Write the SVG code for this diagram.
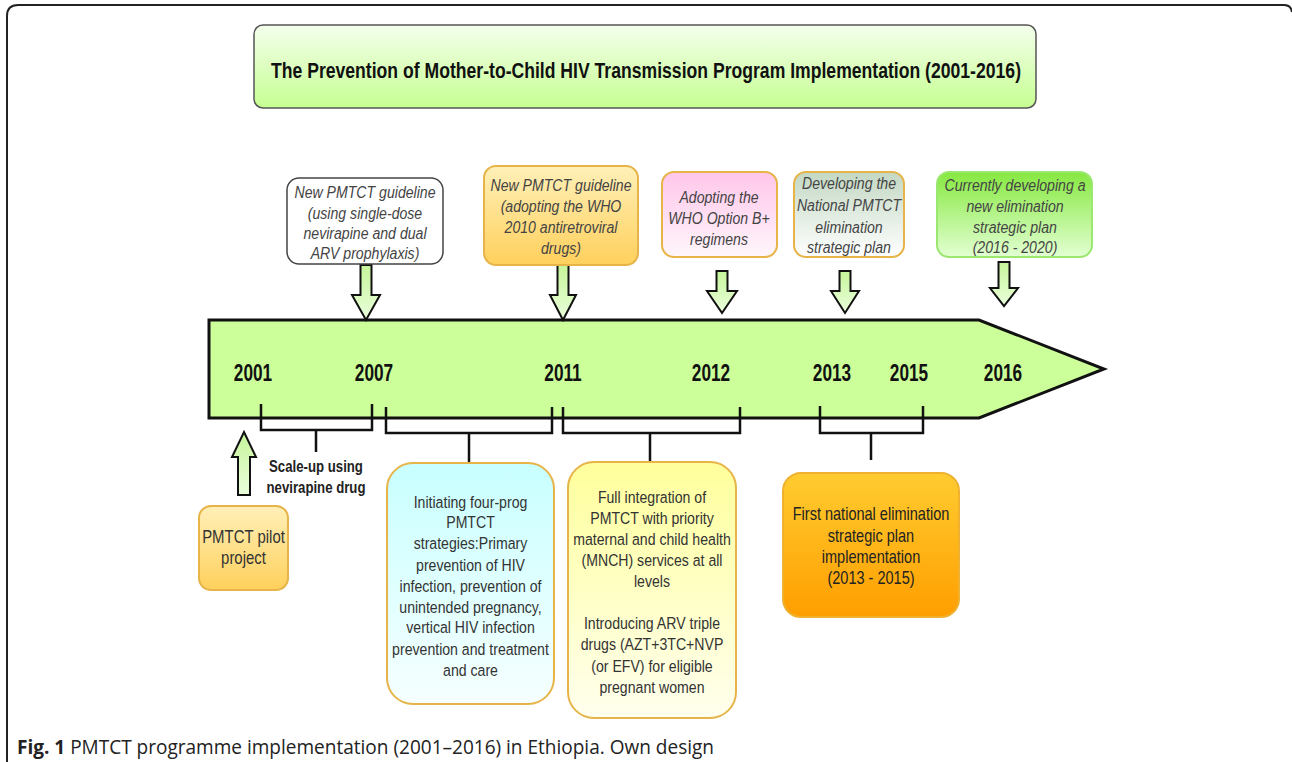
<svg xmlns="http://www.w3.org/2000/svg" width="1292" height="762" viewBox="0 0 1292 762">
<defs>
<linearGradient id="gTitle" x1="0" y1="0" x2="0" y2="1"><stop offset="0" stop-color="#f4ffec"/><stop offset="1" stop-color="#c6ff92"/></linearGradient>
<linearGradient id="gArrow" x1="0" y1="0" x2="0" y2="1"><stop offset="0" stop-color="#c6f59a"/><stop offset="1" stop-color="#eaffdc"/></linearGradient>
<linearGradient id="gOrangeLight" x1="0" y1="0" x2="0" y2="1"><stop offset="0" stop-color="#fff0b8"/><stop offset="1" stop-color="#ffd05c"/></linearGradient>
<linearGradient id="gPink" x1="0" y1="0" x2="0" y2="1"><stop offset="0" stop-color="#ffc6ea"/><stop offset="1" stop-color="#fff6fb"/></linearGradient>
<linearGradient id="gGrey" x1="0" y1="0" x2="0" y2="1"><stop offset="0" stop-color="#c3d8c3"/><stop offset="1" stop-color="#ffffff"/></linearGradient>
<linearGradient id="gGreen" x1="0" y1="0" x2="0" y2="1"><stop offset="0" stop-color="#86e840"/><stop offset="1" stop-color="#e2ffd2"/></linearGradient>
<linearGradient id="gCyan" x1="0" y1="0" x2="0" y2="1"><stop offset="0" stop-color="#c8ffff"/><stop offset="1" stop-color="#f6ffff"/></linearGradient>
<linearGradient id="gYellow" x1="0" y1="0" x2="0" y2="1"><stop offset="0" stop-color="#ffff9c"/><stop offset="1" stop-color="#ffffee"/></linearGradient>
<linearGradient id="gOrange" x1="0" y1="0" x2="0" y2="1"><stop offset="0" stop-color="#ffcc30"/><stop offset="1" stop-color="#ff9e00"/></linearGradient>
</defs>
<style>
.frame{fill:none;stroke:#222;stroke-width:2}
.blk{fill:url(#gArrow);stroke:#111;stroke-width:2;stroke-linejoin:miter}
.brk{fill:none;stroke:#111;stroke-width:2.5}
.box{stroke:#e6b448;stroke-width:2}
.it{font-family:"Liberation Sans",Arial,sans-serif;font-style:italic;font-size:17px;fill:#444;text-anchor:middle}
.rg{font-family:"Liberation Sans",Arial,sans-serif;font-size:17px;fill:#333;text-anchor:middle}
.yr{font-family:"Liberation Sans",Arial,sans-serif;font-weight:bold;font-size:23px;fill:#111;text-anchor:middle}
.bd{font-family:"Liberation Sans",Arial,sans-serif;font-weight:bold;font-size:16.5px;fill:#222;text-anchor:middle}
</style>
<rect width="1292" height="762" fill="#fff"/>
<path class="frame" d="M7,762 L7,16 Q7,5 18,5 L1284,5 Q1291,5 1292,12"/>

<g id="title">
<rect x="254" y="25" width="782" height="83" rx="9" fill="url(#gTitle)" stroke="#555" stroke-width="1.5"/>
<text x="646" y="78" font-family="'Liberation Sans',Arial,sans-serif" font-weight="bold" font-size="21.5" fill="#111" text-anchor="middle" textLength="750" lengthAdjust="spacingAndGlyphs">The Prevention of Mother-to-Child HIV Transmission Program Implementation (2001-2016)</text>
</g>

<g id="timeline">
<polygon points="209,320 979,320 1104,369 979,418 209,418" fill="#ccff99" stroke="#111" stroke-width="3" stroke-linejoin="miter"/>
<g transform="translate(253,0) scale(0.75,1)"><text class="yr" x="0" y="381">2001</text></g>
<g transform="translate(374,0) scale(0.75,1)"><text class="yr" x="0" y="381">2007</text></g>
<g transform="translate(563,0) scale(0.75,1)"><text class="yr" x="0" y="381">2011</text></g>
<g transform="translate(711,0) scale(0.75,1)"><text class="yr" x="0" y="381">2012</text></g>
<g transform="translate(832,0) scale(0.75,1)"><text class="yr" x="0" y="381">2013</text></g>
<g transform="translate(909,0) scale(0.75,1)"><text class="yr" x="0" y="381">2015</text></g>
<g transform="translate(1003,0) scale(0.75,1)"><text class="yr" x="0" y="381">2016</text></g>
</g>

<g id="connectors">
<polygon class="blk" points="360.5,265 371.5,265 371.5,295 380,295 366,320 352,295 360.5,295"/>
<polygon class="blk" points="557.5,265 568.5,265 568.5,295 576,295 563,320 550,295 557.5,295"/>
<polygon class="blk" points="716.5,271 727.5,271 727.5,291 737,291 722,313 707,291 716.5,291"/>
<polygon class="blk" points="839.5,271 850.5,271 850.5,291 859,291 845,313 831,291 839.5,291"/>
<polygon class="blk" points="998.5,262 1009.5,262 1009.5,288 1018,288 1004,306 990,288 998.5,288"/>
<polygon class="blk" points="244,432 256,457 250,457 250,495 238,495 238,457 232,457"/>
<path class="brk" d="M261,404 V430 H372 V404 M316,430 V452"/>
<path class="brk" d="M386,407 V433 H552 V407 M469,433 V463"/>
<path class="brk" d="M563,407 V433 H740 V407 M650,433 V462"/>
<path class="brk" d="M820,406 V433 H923 V406 M871,433 V460"/>
</g>

<g id="n2007">
<rect x="287" y="178" width="156" height="86" rx="12" fill="#fff" stroke="#444" stroke-width="1.5"/>
<g transform="translate(365,0) scale(0.83,1)"><text class="it"><tspan x="0" y="198">New PMTCT guideline</tspan><tspan x="0" y="219">(using single-dose</tspan><tspan x="0" y="239">nevirapine and dual</tspan><tspan x="0" y="259">ARV prophylaxis)</tspan></text></g>
</g>

<g id="n2011">
<rect x="484" y="166" width="154" height="99" rx="12" fill="url(#gOrangeLight)" class="box"/>
<g transform="translate(561,0) scale(0.83,1)"><text class="it"><tspan x="0" y="191">New PMTCT guideline</tspan><tspan x="0" y="212">(adopting the WHO</tspan><tspan x="0" y="233">2010 antiretroviral</tspan><tspan x="0" y="254">drugs)</tspan></text></g>
</g>

<g id="n2012">
<rect x="662" y="172" width="115" height="85" rx="12" fill="url(#gPink)" class="box"/>
<g transform="translate(719,0) scale(0.83,1)"><text class="it"><tspan x="0" y="203">Adopting the</tspan><tspan x="0" y="224">WHO Option B+</tspan><tspan x="0" y="245">regimens</tspan></text></g>
</g>

<g id="n2013">
<rect x="794" y="172" width="110" height="85" rx="12" fill="url(#gGrey)" class="box"/>
<g transform="translate(849,0) scale(0.83,1)"><text class="it"><tspan x="0" y="189">Developing the</tspan><tspan x="0" y="211">National PMTCT</tspan><tspan x="0" y="233">elimination</tspan><tspan x="0" y="253">strategic plan</tspan></text></g>
</g>

<g id="n2016">
<rect x="937" y="172" width="155" height="85" rx="12" fill="url(#gGreen)" stroke="#9be870" stroke-width="2"/>
<g transform="translate(1015,0) scale(0.83,1)"><text class="it"><tspan x="0" y="191">Currently developing a</tspan><tspan x="0" y="212">new elimination</tspan><tspan x="0" y="233">strategic plan</tspan><tspan x="0" y="253">(2016 - 2020)</tspan></text></g>
</g>

<g id="scaleup">
<g transform="translate(316,0) scale(0.8,1)"><text class="bd"><tspan x="0" y="472">Scale-up using</tspan><tspan x="0" y="493">nevirapine drug</tspan></text></g>
</g>

<g id="pilot">
<rect x="199" y="506" width="89" height="84" rx="12" fill="url(#gOrangeLight)" class="box"/>
<g transform="translate(243.5,0) scale(0.83,1)"><text class="rg" style="font-size:18px"><tspan x="0" y="543">PMTCT pilot</tspan><tspan x="0" y="564">project</tspan></text></g>
</g>

<g id="fourprong">
<rect x="387" y="463" width="167" height="241" rx="26" fill="url(#gCyan)" class="box"/>
<g transform="translate(470.5,0) scale(0.83,1)"><text class="rg"><tspan x="0" y="508">Initiating four-prog</tspan><tspan x="0" y="528">PMTCT</tspan><tspan x="0" y="549">strategies:Primary</tspan><tspan x="0" y="571">prevention of HIV</tspan><tspan x="0" y="592">infection, prevention of</tspan><tspan x="0" y="613">unintended pregnancy,</tspan><tspan x="0" y="633">vertical HIV infection</tspan><tspan x="0" y="655">prevention and treatment</tspan><tspan x="0" y="676">and care</tspan></text></g>
</g>

<g id="integration">
<rect x="568" y="462" width="168" height="256" rx="26" fill="url(#gYellow)" class="box"/>
<g transform="translate(652,0) scale(0.83,1)"><text class="rg"><tspan x="0" y="503">Full integration of</tspan><tspan x="0" y="524">PMTCT with priority</tspan><tspan x="0" y="545">maternal and child health</tspan><tspan x="0" y="566">(MNCH) services at all</tspan><tspan x="0" y="587">levels</tspan><tspan x="0" y="629">Introducing ARV triple</tspan><tspan x="0" y="650">drugs (AZT+3TC+NVP</tspan><tspan x="0" y="672">(or EFV) for eligible</tspan><tspan x="0" y="693">pregnant women</tspan></text></g>
</g>

<g id="firstplan">
<rect x="783" y="473" width="176" height="144" rx="18" fill="url(#gOrange)" stroke="#f0b030" stroke-width="2"/>
<g transform="translate(871,0) scale(0.83,1)"><text class="rg" style="font-size:17.5px;fill:#222"><tspan x="0" y="520">First national elimination</tspan><tspan x="0" y="542">strategic plan</tspan><tspan x="0" y="563">implementation</tspan><tspan x="0" y="584">(2013 - 2015)</tspan></text></g>
</g>

<g id="caption">
<text x="17" y="754" font-family="'Open Sans','Noto Sans',sans-serif" font-size="19.5" fill="#222" textLength="697" lengthAdjust="spacingAndGlyphs"><tspan font-weight="bold">Fig. 1</tspan> PMTCT programme implementation (2001–2016) in Ethiopia. Own design</text>
</g>
</svg>
